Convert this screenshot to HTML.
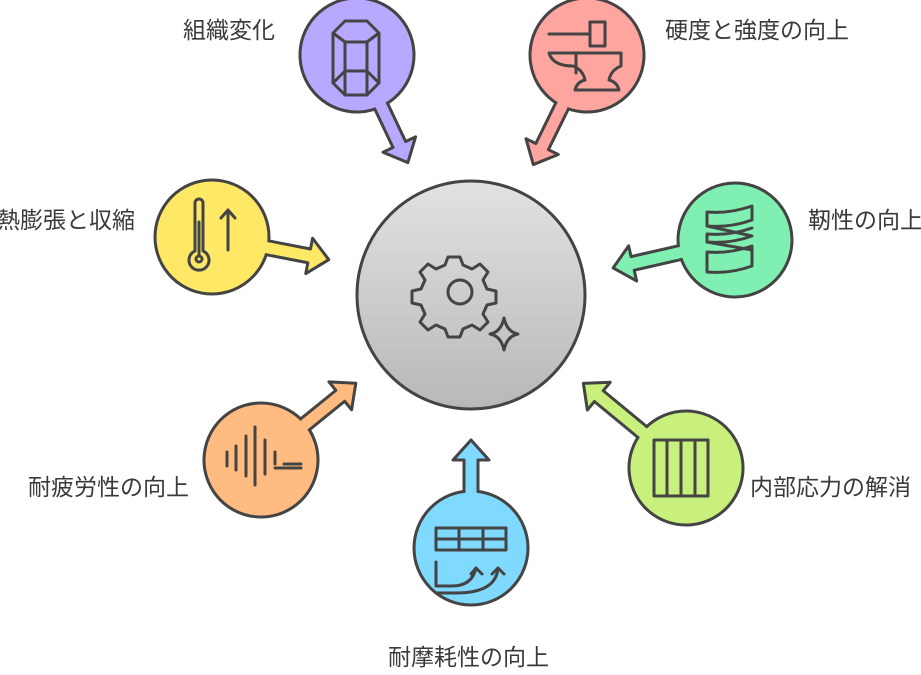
<!DOCTYPE html>
<html><head><meta charset="utf-8"><style>
body{margin:0;background:#fff;width:921px;height:675px;overflow:hidden}
svg{display:block}
text{font-family:"Liberation Sans","Noto Sans CJK JP",sans-serif;font-size:23px;fill:#3a3a3a}
</style></head><body>
<svg width="921" height="675" viewBox="0 0 921 675" xmlns="http://www.w3.org/2000/svg">
<defs>
<linearGradient id="g" x1="0" y1="0" x2="0" y2="1"><stop offset="0" stop-color="#e2e2e2"/><stop offset="1" stop-color="#b8b8b8"/></linearGradient>
</defs>
<circle cx="471" cy="295" r="114" fill="url(#g)" stroke="#444" stroke-width="3"/>
<g fill="none" stroke="#444" stroke-width="3" stroke-linejoin="round" stroke-linecap="round">
<path d="M450 255 l12 0 l3 8 l9 4 l8 -5 l8 8 l-5 8 l4 9 l9 2 l0 12 l-9 2 l-4 9 l5 8 l-8 8 l-8 -5 l-9 4 l-3 8 l-12 0 l-3 -8 l-9 -4 l-8 5 l-8 -8 l5 -8 l-4 -9 l-9 -2 l0 -12 l9 -2 l4 -9 l-5 -8 l8 -8 l8 5 l9 -4 z" transform="translate(-2,2)"/>
<circle cx="460" cy="292" r="12"/>
<path d="M504 318 q3 14 14 16 q-11 2 -14 16 q-3 -14 -14 -16 q11 -2 14 -16z"/>
</g>

<g stroke="#444" stroke-width="3" stroke-linejoin="round">
<g transform="translate(357,55) rotate(64.7)"><polygon fill="#b9a8ff" points="0,-7 99,-7 99,-18 119,0 99,18 99,7 0,7"/><circle r="57" fill="#b9a8ff"/><rect x="50" y="-5.5" width="12" height="11" fill="#b9a8ff" stroke="none"/></g>
<g transform="translate(587,55) rotate(116.1)"><polygon fill="#ffa5a0" points="0,-7 102,-7 102,-18 122,0 102,18 102,7 0,7"/><circle r="57" fill="#ffa5a0"/><rect x="50" y="-5.5" width="12" height="11" fill="#ffa5a0" stroke="none"/></g>
<g transform="translate(735,240) rotate(167.1)"><polygon fill="#80f0b2" points="0,-7 105,-7 105,-18 125,0 105,18 105,7 0,7"/><circle r="57" fill="#80f0b2"/><rect x="50" y="-5.5" width="12" height="11" fill="#80f0b2" stroke="none"/></g>
<g transform="translate(212,237) rotate(11)"><polygon fill="#ffe866" points="0,-7 99,-7 99,-18 119,0 99,18 99,7 0,7"/><circle r="57" fill="#ffe866"/><rect x="50" y="-5.5" width="12" height="11" fill="#ffe866" stroke="none"/></g>
<g transform="translate(261,460) rotate(-39)"><polygon fill="#ffbb80" points="0,-7 102,-7 102,-18 122,0 102,18 102,7 0,7"/><circle r="57" fill="#ffbb80"/><rect x="50" y="-5.5" width="12" height="11" fill="#ffbb80" stroke="none"/></g>
<g transform="translate(471,548) rotate(-90)"><polygon fill="#80d9ff" points="0,-7 88,-7 88,-18 108,0 88,18 88,7 0,7"/><circle r="57" fill="#80d9ff"/><rect x="50" y="-5.5" width="12" height="11" fill="#80d9ff" stroke="none"/></g>
<g transform="translate(686,468) rotate(-140.5)"><polygon fill="#c9f07c" points="0,-7 113,-7 113,-18 133,0 113,18 113,7 0,7"/><circle r="57" fill="#c9f07c"/><rect x="50" y="-5.5" width="12" height="11" fill="#c9f07c" stroke="none"/></g>
</g>

<g fill="none" stroke="#444" stroke-width="3" stroke-linejoin="round" stroke-linecap="round">
<path d="M345 21 h22 l12 12 v50 l-12 12 h-22 l-12 -12 v-50 z M333 33 l12 9 h22 l12 -9 M345 42 v45 M367 42 v45 M333 83 l12 -12 h22 l12 12 M345 71 v24 M367 71 v24"/>
<path d="M549 34 h41 M590 22 h15 v24 h-15 z M549 53 h72 v13 q-10 4 -12 14 q8 2 10 10 h-44 q2 -8 10 -10 q-2 -10 -12 -14 q-20 0 -24 -13z M576 53 v20"/>
<path d="M195 203 a4 4 0 0 1 8 0 v48 a10 10 0 1 1 -8 0 z M199 222 v34 M228 250 v-40 M221 218 l7 -8 l7 8"/>
<circle cx="199" cy="259" r="3"/>
<!-- spring -->
<path d="M707 212 q22 2 45 -6 v14 q-22 8 -45 6 z M707 226 l45 10 M707 234 q22 2 45 -6 M752 236 q-22 8 -45 6 v-8 M707 242 l45 8 M707 252 q22 2 45 -6 v4 M752 250 v16 q-22 8 -45 6 v-20"/>
<path d="M227 452 v14 M236 446 v24 M246 436 v40 M255 427 v58 M265 440 v34 M275 452 v12 M284 464 h17 M275 468 h26"/>
<path d="M654 440 h54 v56 h-54 z M667 440 v56 M681 440 v56 M695 440 v56"/>
<path d="M436 528 h70 v22 h-70 z M436 539 h70 M459 528 v22 M483 528 v22 M436 562 v24 h16 q20 0 24 -18 M471 574 l5 -6 l6 6 M436 593 h20 q40 0 42 -25 M492 574 l6 -6 l6 6"/>
</g>

<text x="183" y="38">組織変化</text>
<text x="665" y="38">硬度と強度の向上</text>
<text x="-3" y="228">熱膨張と収縮</text>
<text x="808" y="228">靭性の向上</text>
<text x="28" y="495">耐疲労性の向上</text>
<text x="750" y="495">内部応力の解消</text>
<text x="388" y="665">耐摩耗性の向上</text>
</svg>
</body></html>
